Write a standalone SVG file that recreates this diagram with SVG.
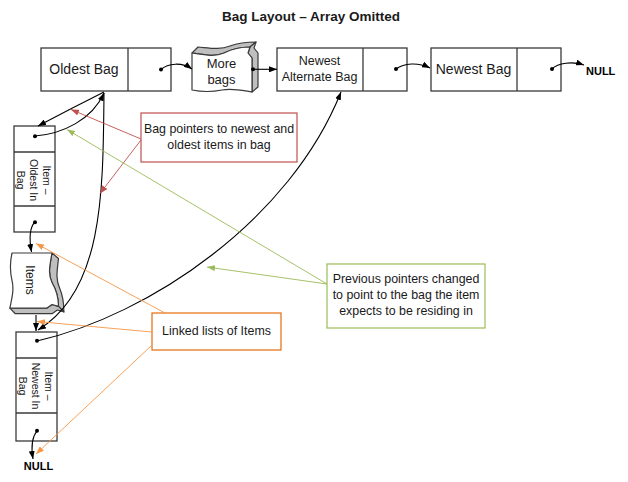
<svg xmlns="http://www.w3.org/2000/svg" xmlns:xlink="http://www.w3.org/1999/xlink" width="628" height="482" viewBox="0 0 628 482">
<style>
text{font-family:"Liberation Sans",Arial,sans-serif;fill:#1a1a1a}
.box{fill:#fff;stroke:#3a3a3a;stroke-width:1.3}
.div{stroke:#3a3a3a;stroke-width:1.3}
.lbl{font-size:14px;text-anchor:middle}
.mid{font-size:12.5px;text-anchor:middle}
.sm{font-size:10.5px;text-anchor:middle}
.cl{font-size:12.4px;text-anchor:middle}
.null{font-size:11px;font-weight:bold;fill:#000}
.con{fill:none;stroke:#000;stroke-width:1.1}
.dot{fill:#000}
.red{fill:none;stroke:#C0504D;stroke-width:0.9}
.grn{fill:none;stroke:#9BBB59;stroke-width:0.9}
.org{fill:none;stroke:#F79646;stroke-width:0.9}
.face{fill:#fff;stroke:#3a3a3a;stroke-width:1.2;stroke-linejoin:round}
.side{fill:#BFBFBF;stroke:#3a3a3a;stroke-width:1.2;stroke-linejoin:round}
</style>
<defs>
<marker id="ab" markerUnits="userSpaceOnUse" markerWidth="8" markerHeight="6" refX="8" refY="3" orient="auto"><path d="M0,0 L8,3 L0,6 Z" fill="#000"/></marker>
<marker id="ar" markerUnits="userSpaceOnUse" markerWidth="8" markerHeight="6" refX="8" refY="3" orient="auto"><path d="M0,0 L8,3 L0,6 Z" fill="#C0504D"/></marker>
<marker id="ag" markerUnits="userSpaceOnUse" markerWidth="8" markerHeight="6" refX="8" refY="3" orient="auto"><path d="M0,0 L8,3 L0,6 Z" fill="#9BBB59"/></marker>
<marker id="ao" markerUnits="userSpaceOnUse" markerWidth="8" markerHeight="6" refX="8" refY="3" orient="auto"><path d="M0,0 L8,3 L0,6 Z" fill="#F79646"/></marker>
<g id="wave">
<path class="side" vector-effect="non-scaling-stroke" d="M0,0 L6,-6 C18,-5 28,-3 38,-7 C46,-10 56,-11 64,-11 L58,-6 C50,-6 40,-4 32,0 C23,4 13,2 0,0 Z"/>
<path class="side" vector-effect="non-scaling-stroke" d="M58,-6 L64,-11 L62,-5 L66,0 L66,34 L60,39 L60,5 L56,0 Z"/>
<path class="face" vector-effect="non-scaling-stroke" d="M0,0 C13,2 23,4 32,0 C40,-4 50,-6 58,-6 L56,0 L60,5 L60,39 C48,37 40,35 30,37 C20,39 10,39 0,37 Z"/>
</g>
</defs>

<text x="311" y="21" font-size="13.5" font-weight="bold" text-anchor="middle" fill="#000">Bag Layout – Array Omitted</text>

<g id="oldest-bag">
<rect class="box" x="41" y="48" width="130" height="43"/>
<line class="div" x1="128" y1="48" x2="128" y2="91"/>
<text class="lbl" x="84" y="74">Oldest Bag</text>
</g>

<g id="more-bags">
<use xlink:href="#wave" href="#wave" transform="translate(192,53)"/>
<text class="lbl" font-size="13" x="221.5" y="68" style="font-size:13px">More</text>
<text class="lbl" x="221.5" y="84" style="font-size:13px">bags</text>
</g>

<g id="newest-alternate-bag">
<rect class="box" x="277" y="48" width="130" height="43"/>
<line class="div" x1="363" y1="48" x2="363" y2="91"/>
<text class="mid" x="319.5" y="65">Newest</text>
<text class="mid" x="319.5" y="81">Alternate Bag</text>
</g>

<g id="newest-bag">
<rect class="box" x="431" y="48" width="130" height="43"/>
<line class="div" x1="517" y1="48" x2="517" y2="91"/>
<text class="lbl" x="473.5" y="74">Newest Bag</text>
</g>

<g id="item-oldest">
<rect class="box" x="14" y="126" width="41" height="106"/>
<line class="div" x1="14" y1="152" x2="55" y2="152"/>
<line class="div" x1="14" y1="206" x2="55" y2="206"/>
<text class="sm" transform="translate(35,180) rotate(90)"><tspan x="0" y="-8">Item –</tspan><tspan x="0" y="5">Oldest In</tspan><tspan x="0" y="18">Bag</tspan></text>
</g>

<g id="items">
<use xlink:href="#wave" href="#wave" transform="translate(52,253) scale(1.08,0.92) rotate(90)"/>
<text transform="translate(30,280) rotate(90)" x="0" y="4" font-size="12" text-anchor="middle">Items</text>
</g>

<g id="item-newest">
<rect class="box" x="16" y="332" width="41" height="109"/>
<line class="div" x1="16" y1="358" x2="57" y2="358"/>
<line class="div" x1="16" y1="413" x2="57" y2="413"/>
<text class="sm" transform="translate(36.5,386) rotate(90)"><tspan x="0" y="-8">Item –</tspan><tspan x="0" y="5">Newest In</tspan><tspan x="0" y="18">Bag</tspan></text>
</g>

<g id="null-top"><text class="null" x="586" y="75">NULL</text></g>
<g id="null-bottom"><text class="null" x="38.5" y="470" text-anchor="middle">NULL</text></g>

<g id="callout-bag-pointers">
<rect x="141" y="113" width="156" height="49" fill="#fff" stroke="#C0504D" stroke-width="1.2"/>
<text class="cl" x="219" y="133">Bag pointers to newest and</text>
<text class="cl" x="219" y="149">oldest items in bag</text>
</g>

<g id="callout-previous-pointers">
<rect x="327" y="264" width="158" height="64" fill="#fff" stroke="#9BBB59" stroke-width="1.2"/>
<text class="cl" x="406" y="283">Previous pointers changed</text>
<text class="cl" x="406" y="299">to point to the bag the item</text>
<text class="cl" x="406" y="314.5">expects to be residing in</text>
</g>

<g id="callout-linked-lists">
<rect x="152" y="313" width="129" height="37" fill="#fff" stroke="#E46C0A" stroke-width="1.2"/>
<text class="cl" x="216.5" y="335">Linked lists of Items</text>
</g>

<g id="connectors">
<path class="con" d="M161,69.5 C168,63 182,62 192,69" marker-end="url(#ab)"/>
<circle class="dot" cx="161" cy="69.5" r="2"/>
<path class="con" d="M253,69.3 L277,69.3" marker-end="url(#ab)"/>
<circle class="dot" cx="253" cy="69.3" r="2"/>
<path class="con" d="M396,69 C404,63 418,62 430,68" marker-end="url(#ab)"/>
<circle class="dot" cx="396" cy="69" r="2"/>
<path class="con" d="M552,69 C558,63 572,61 584,65" marker-end="url(#ab)"/>
<circle class="dot" cx="552" cy="69" r="2"/>

<path class="con" d="M104,92 Q72,108 38,126" marker-end="url(#ab)"/>
<path class="con" d="M35,136 C62,134 92,120 104,93" marker-end="url(#ab)"/>
<circle class="dot" cx="35" cy="136.3" r="2"/>
<path class="con" d="M104,93 C103,190 104,290 38,330" marker-end="url(#ab)"/>
<path class="con" d="M37,341 C150,315 290,220 341,92" marker-end="url(#ab)"/>
<circle class="dot" cx="37" cy="340.7" r="2"/>
<path class="con" d="M35,222 C29,228 29,238 31.5,252" marker-end="url(#ab)"/>
<circle class="dot" cx="35" cy="222.3" r="2"/>
<path class="con" d="M36,315 L36,331" marker-end="url(#ab)"/>
<path class="con" d="M37,431 C32,437 31,447 33,459" marker-end="url(#ab)"/>
<circle class="dot" cx="37" cy="430.7" r="2"/>

<path class="red" d="M141,139 L71,109.5" marker-end="url(#ar)"/>
<path class="red" d="M141,140 L100,193.5" marker-end="url(#ar)"/>
<path class="grn" d="M327,284 L67,129.5" marker-end="url(#ag)"/>
<path class="grn" d="M327,284 L207,267" marker-end="url(#ag)"/>
<path class="org" d="M165,313 L36,243.5" marker-end="url(#ao)"/>
<path class="org" d="M152,332 L37,321.5" marker-end="url(#ao)"/>
<path class="org" d="M151,346 L36,454" marker-end="url(#ao)"/>
</g>
</svg>
